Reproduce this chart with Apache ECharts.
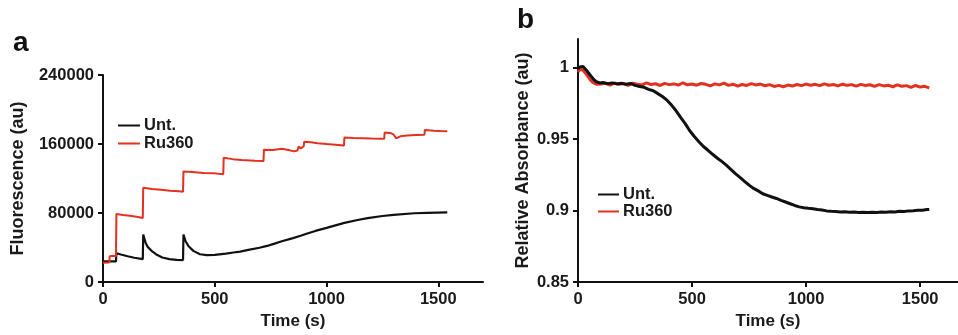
<!DOCTYPE html>
<html><head><meta charset="utf-8">
<script src="https://cdn.jsdelivr.net/npm/echarts@6/dist/echarts.min.js"></script>
<style>html,body{margin:0;padding:0;background:#fff}#c{width:958px;height:335px}</style>
</head><body><div id="c"></div>
<script>
// ---------- Panel a: Fluorescence (au) vs Time (s) ----------
const fluorTicksY = [0, 80000, 160000, 240000];
const timeTicks = [0, 500, 1000, 1500];
const untFluor = [[0,24000],[58,24000],[60,33500],[80,32000],[110,30000],[140,28200],[178,26600],[180,55200],[190,46000],[200,40800],[220,35500],[237,32300],[265,28500],[297,26600],[330,25800],[358,25500],[360,55200],[370,47000],[382,41900],[404,36200],[434,32300],[464,31200],[500,31500],[550,33000],[584,34300],[614,35400],[650,37300],[700,39800],[734,41900],[764,44300],[800,47300],[850,51000],[884,53700],[914,56300],[950,59300],[1000,62800],[1040,65800],[1080,68600],[1139,72000],[1184,74200],[1250,76600],[1300,78000],[1393,79800],[1450,80300],[1540,80800]];
const ruFluor = [[0,22500],[28,22800],[30,30000],[45,30500],[58,29800],[60,78800],[90,77800],[120,77000],[150,75800],[178,74300],[180,109300],[220,108000],[260,107000],[300,105800],[340,105200],[358,104800],[360,128300],[400,127500],[450,126500],[500,126000],[538,125000],[540,144000],[580,142500],[620,141500],[680,140700],[718,140200],[720,153500],[760,153000],[800,154500],[830,153000],[855,151500],[870,152500],[875,157000],[885,155000],[892,154000],[898,157500],[900,162600],[930,162000],[960,161000],[1000,160000],[1040,159200],[1078,158300],[1080,167600],[1120,167000],[1160,166800],[1200,166300],[1240,166200],[1258,166000],[1260,173300],[1290,172500],[1300,171000],[1312,166500],[1330,169000],[1360,170000],[1400,170500],[1438,170800],[1440,176300],[1480,175500],[1510,175000],[1540,174900]];

// ---------- Panel b: Relative Absorbance (au) vs Time (s) ----------
const absTicksY = [0.85, 0.9, 0.95, 1];
const untAbs = [[0,0.999],[8,1.0005],[15,0.9995],[22,1.0008],[30,0.9998],[38,0.998],[45,0.9965],[52,0.995],[60,0.9935],[70,0.9915],[80,0.9902],[95,0.9893],[110,0.9896],[130,0.9888],[150,0.9893],[170,0.9886],[190,0.9891],[210,0.9884],[230,0.9889],[250,0.9876],[270,0.9868],[290,0.9862],[310,0.9848],[330,0.9838],[350,0.9818],[370,0.9798],[390,0.9772],[410,0.9738],[430,0.9698],[450,0.9652],[470,0.9608],[490,0.9558],[510,0.9518],[530,0.9482],[550,0.9448],[570,0.9422],[590,0.9394],[610,0.9368],[630,0.9344],[650,0.9318],[670,0.9288],[690,0.9258],[710,0.9232],[730,0.9205],[750,0.9178],[770,0.9155],[790,0.9138],[810,0.9118],[830,0.9106],[850,0.9095],[870,0.9085],[890,0.9072],[910,0.906],[930,0.9048],[950,0.9036],[970,0.9026],[990,0.902],[1010,0.9016],[1030,0.9013],[1050,0.9008],[1070,0.9004],[1090,0.8998],[1110,0.8995],[1130,0.8993],[1150,0.899],[1170,0.8992],[1190,0.8988],[1210,0.899],[1230,0.8987],[1250,0.8989],[1270,0.8986],[1290,0.8988],[1310,0.8986],[1330,0.899],[1350,0.8988],[1370,0.8992],[1390,0.899],[1410,0.8995],[1430,0.8994],[1450,0.8998],[1470,0.8999],[1490,0.9002],[1510,0.9003],[1530,0.9008],[1540,0.9008]];
const ruAbs = [[0,0.997],[6,0.9985],[12,0.9975],[20,0.9985],[28,0.997],[36,0.9955],[45,0.9935],[55,0.9912],[65,0.9896],[80,0.9884],[100,0.9885],[120,0.989],[140,0.9878],[160,0.9892],[180,0.9883],[200,0.9888],[220,0.9876],[240,0.9891],[260,0.9884],[280,0.9879],[300,0.9893],[320,0.9882],[340,0.9887],[360,0.9875],[380,0.989],[400,0.9881],[420,0.9886],[440,0.9878],[460,0.9894],[480,0.988],[500,0.9885],[520,0.9877],[540,0.9889],[560,0.9883],[580,0.9872],[600,0.9886],[620,0.9879],[640,0.9891],[660,0.9876],[680,0.9884],[700,0.987],[720,0.9882],[740,0.9875],[760,0.9888],[780,0.9879],[800,0.9885],[820,0.9873],[840,0.9881],[860,0.9868],[880,0.9876],[900,0.9866],[920,0.9878],[940,0.9871],[960,0.9882],[980,0.9874],[1000,0.9885],[1020,0.9876],[1040,0.9883],[1060,0.9874],[1080,0.9886],[1100,0.9877],[1120,0.9882],[1140,0.9872],[1160,0.9884],[1180,0.9876],[1200,0.9881],[1220,0.987],[1240,0.9883],[1260,0.9875],[1280,0.988],[1300,0.9869],[1320,0.9881],[1340,0.9872],[1360,0.9877],[1380,0.9866],[1400,0.9879],[1420,0.9869],[1440,0.9874],[1460,0.9862],[1480,0.9875],[1500,0.9864],[1520,0.9869],[1540,0.9858]];

const FONT = '"Liberation Sans", Arial, sans-serif';
const RED = '#e3301f';
const BLACK = '#111111';
const txt = {color:'#1a1a1a', fontFamily:FONT, fontWeight:'bold'};
const plain = v => String(v);

function xAxisDef(gi, max){
  return {type:'value', gridIndex:gi, min:0, max:max,
    name:'Time (s)', nameLocation:'middle', nameGap:26,
    nameTextStyle:Object.assign({fontSize:17}, txt),
    axisLine:{show:true, lineStyle:{color:BLACK, width:2}},
    axisTick:{show:true, customValues:timeTicks, length:5, lineStyle:{color:BLACK, width:2}},
    axisLabel:Object.assign({show:true, customValues:timeTicks, fontSize:16.5, margin:9, formatter:plain}, txt),
    splitLine:{show:false}};
}

const chart = echarts.init(document.getElementById('c'), null, {renderer:'canvas'});
chart.setOption({
  animation:false,
  backgroundColor:'#ffffff',
  title:[
    {text:'a', left:8, top:24, textStyle:Object.assign({}, txt, {fontSize:28, color:'#111'})},
    {text:'b', left:512, top:1, textStyle:Object.assign({}, txt, {fontSize:28, color:'#111'})}
  ],
  grid:[
    {left:103, top:75, width:380, bottom:50},
    {left:578, top:39, width:380, bottom:50}
  ],
  legend:[
    {orient:'vertical', left:113, top:112, icon:'rect', itemWidth:22, itemHeight:2, itemGap:1,
     data:['Unt.','Ru360'], textStyle:Object.assign({fontSize:16.5, lineHeight:16, padding:[0,0,0,-1]}, txt)},
    {orient:'vertical', left:593, top:181, icon:'rect', itemWidth:21, itemHeight:2, itemGap:0,
     data:['Unt.','Ru360'], textStyle:Object.assign({fontSize:16.5, lineHeight:15, padding:[0,0,0,-1]}, txt)}
  ],
  xAxis:[xAxisDef(0,1700), xAxisDef(1,1666)],
  yAxis:[
    {type:'value', gridIndex:0, min:0, max:240000, interval:80000,
     name:'Fluorescence (au)', nameLocation:'middle', nameGap:76,
     nameTextStyle:Object.assign({fontSize:18}, txt),
     axisLine:{show:true, lineStyle:{color:BLACK, width:2}},
     axisTick:{show:true, customValues:fluorTicksY, length:5, lineStyle:{color:BLACK, width:2}},
     axisLabel:Object.assign({customValues:fluorTicksY, fontSize:16.5, margin:9, formatter:plain}, txt),
     splitLine:{show:false}},
    {type:'value', gridIndex:1, min:0.85, max:1.02,
     name:'Relative Absorbance (au)', nameLocation:'middle', nameGap:46,
     nameTextStyle:Object.assign({fontSize:18}, txt),
     axisLine:{show:true, lineStyle:{color:BLACK, width:2}},
     axisTick:{show:true, customValues:absTicksY, length:5, lineStyle:{color:BLACK, width:2}},
     axisLabel:Object.assign({customValues:absTicksY, fontSize:16.5, margin:9, formatter:plain}, txt),
     splitLine:{show:false}}
  ],
  series:[
    {name:'Unt.', type:'line', xAxisIndex:0, yAxisIndex:0, data:untFluor, showSymbol:false,
     lineStyle:{color:BLACK, width:2.2}, itemStyle:{color:BLACK}},
    {name:'Ru360', type:'line', xAxisIndex:0, yAxisIndex:0, data:ruFluor, showSymbol:false,
     lineStyle:{color:RED, width:2}, itemStyle:{color:RED}},
    {name:'Ru360', type:'line', xAxisIndex:1, yAxisIndex:1, data:ruAbs, showSymbol:false,
     lineStyle:{color:RED, width:3}, itemStyle:{color:RED}},
    {name:'Unt.', type:'line', xAxisIndex:1, yAxisIndex:1, data:untAbs, showSymbol:false,
     lineStyle:{color:BLACK, width:3}, itemStyle:{color:BLACK}}
  ]
});
</script></body></html>
